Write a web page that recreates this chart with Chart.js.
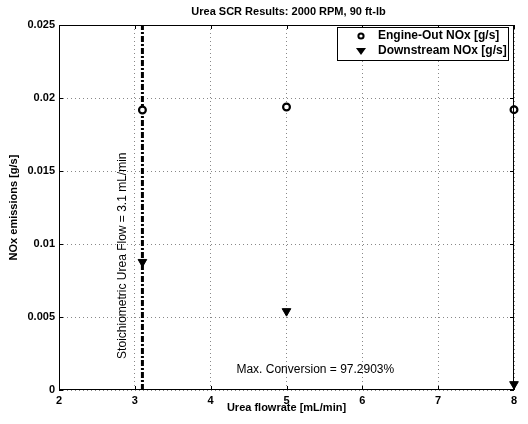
<!DOCTYPE html>
<html>
<head>
<meta charset="utf-8">
<script src="https://cdn.jsdelivr.net/npm/chart.js@4"></script>
<style>
  html, body { margin: 0; padding: 0; background: #fff; }
  #wrap { width: 528px; height: 424px; }
</style>
</head>
<body>
<div id="wrap"><canvas id="c" width="528" height="424"></canvas></div>
<script>
// data
const ureaFlow = [3.1, 5, 8];
const engineOut = [0.01918, 0.01938, 0.01920];
const downstream = [0.00877, 0.00540, 0.00040];
const stoichFlow = 3.1;
const xTicks = [2, 3, 4, 5, 6, 7, 8];
const yTicks = [0, 0.005, 0.01, 0.015, 0.02, 0.025];

const FONT = '"Liberation Sans", Arial, sans-serif';

// frame, inner ticks, titles, annotations and legend
const decor = {
    id: 'decor',
    afterDatasetsDraw(chart) {
        const ctx = chart.ctx;
        const a = chart.chartArea;
        const xs = chart.scales.x, ys = chart.scales.y;
        ctx.save();

        ctx.strokeStyle = '#000';
        ctx.lineWidth = 1;
        ctx.strokeRect(a.left + 0.5, a.top + 0.5, a.right - a.left - 1, a.bottom - a.top - 1);

        // tick marks on the inside of the box
        ctx.beginPath();
        xTicks.forEach(v => {
            const px = Math.round(xs.getPixelForValue(v)) + 0.5;
            ctx.moveTo(px, a.bottom); ctx.lineTo(px, a.bottom - 4);
            ctx.moveTo(px, a.top); ctx.lineTo(px, a.top + 4);
        });
        yTicks.forEach(v => {
            const py = Math.round(ys.getPixelForValue(v)) + 0.5;
            ctx.moveTo(a.left, py); ctx.lineTo(a.left + 4, py);
            ctx.moveTo(a.right, py); ctx.lineTo(a.right - 4, py);
        });
        ctx.stroke();

        ctx.fillStyle = '#000';
        ctx.textAlign = 'center';
        ctx.textBaseline = 'middle';
        ctx.font = 'bold 11px ' + FONT;
        ctx.fillText('Urea SCR Results: 2000 RPM, 90 ft-lb', (a.left + a.right) / 2 + 2, 12);
        ctx.fillText('Urea flowrate [mL/min]', (a.left + a.right) / 2, 408);

        ctx.save();
        ctx.translate(14, (a.top + a.bottom) / 2);
        ctx.rotate(-Math.PI / 2);
        ctx.fillText('NOx emissions [g/s]', 0, 0);
        ctx.restore();

        ctx.font = '12px ' + FONT;
        ctx.save();
        ctx.translate(xs.getPixelForValue(stoichFlow) - 20, ys.getPixelForValue(0.0092));
        ctx.rotate(-Math.PI / 2);
        ctx.fillText('Stoichiometric Urea Flow = 3.1 mL/min', 0, 0);
        ctx.restore();

        ctx.fillText('Max. Conversion = 97.2903%', xs.getPixelForValue(5.38), ys.getPixelForValue(0.0014));

        // legend box
        const lx = 337, ly = 27, lw = 171, lh = 33;
        ctx.fillStyle = '#fff';
        ctx.fillRect(lx, ly, lw, lh);
        ctx.strokeRect(lx + 0.5, ly + 0.5, lw, lh);
        ctx.textAlign = 'left';
        ctx.font = 'bold 12px ' + FONT;
        chart.data.datasets.slice(0, 2).forEach((ds, i) => {
            const cy = ly + 9 + i * 15;
            ctx.beginPath();
            if (i === 0) {
                ctx.lineWidth = 2;
                ctx.fillStyle = '#fff';
                ctx.arc(lx + 24, cy, 2.6, 0, Math.PI * 2);
                ctx.fill(); ctx.stroke();
                ctx.lineWidth = 1;
            } else {
                ctx.fillStyle = '#000';
                ctx.moveTo(lx + 19, cy - 3);
                ctx.lineTo(lx + 29, cy - 3);
                ctx.lineTo(lx + 24, cy + 4);
                ctx.closePath();
                ctx.fill();
            }
            ctx.fillStyle = '#000';
            ctx.fillText(ds.label, lx + 41, cy);
        });
        ctx.restore();
    }
};

new Chart(document.getElementById('c'), {
    type: 'scatter',
    plugins: [decor],
    data: {
        datasets: [{
            label: 'Engine-Out NOx [g/s]',
            data: ureaFlow.map((x, i) => ({ x, y: engineOut[i] })),
            pointStyle: 'circle',
            pointRadius: 3.4,
            pointBorderWidth: 2.2,
            pointBorderColor: '#000',
            pointBackgroundColor: '#fff',
            showLine: false,
            clip: false
        }, {
            label: 'Downstream NOx [g/s]',
            data: ureaFlow.map((x, i) => ({ x, y: downstream[i] })),
            pointStyle: 'triangle',
            pointRotation: 180,
            pointRadius: 5,
            pointBorderWidth: 1,
            pointBorderColor: '#000',
            pointBackgroundColor: '#000',
            showLine: false,
            clip: false
        }, {
            label: 'stoich',
            data: [{ x: stoichFlow, y: 0 }, { x: stoichFlow, y: 0.025 }],
            showLine: true,
            borderColor: '#000',
            borderWidth: 3,
            borderDash: [6, 2, 2, 2],
            pointRadius: 0
        }]
    },
    options: {
        responsive: false,
        animation: false,
        layout: { padding: { top: 25, right: 14, left: 0, bottom: 0 } },
        plugins: { legend: { display: false }, tooltip: { enabled: false }, title: { display: false } },
        scales: {
            x: {
                type: 'linear', min: 2, max: 8,
                afterBuildTicks(s) { s.ticks = xTicks.map(v => ({ value: v })); },
                afterFit(s) { s.height = 34; },
                grid: { color: '#888', lineWidth: 1, drawTicks: false },
                border: { display: false, dash: [1, 3] },
                ticks: { color: '#000', padding: 4, font: { family: FONT, size: 11, weight: 'bold' } }
            },
            y: {
                type: 'linear', min: 0, max: 0.025,
                afterBuildTicks(s) { s.ticks = yTicks.map(v => ({ value: v })); },
                afterFit(s) { s.width = 59; },
                grid: { color: '#888', lineWidth: 1, drawTicks: false },
                border: { display: false, dash: [1, 3] },
                ticks: { color: '#000', padding: 4, font: { family: FONT, size: 11, weight: 'bold' },
                    callback: v => String(+v.toFixed(3)) }
            }
        }
    }
});
</script>
</body>
</html>
